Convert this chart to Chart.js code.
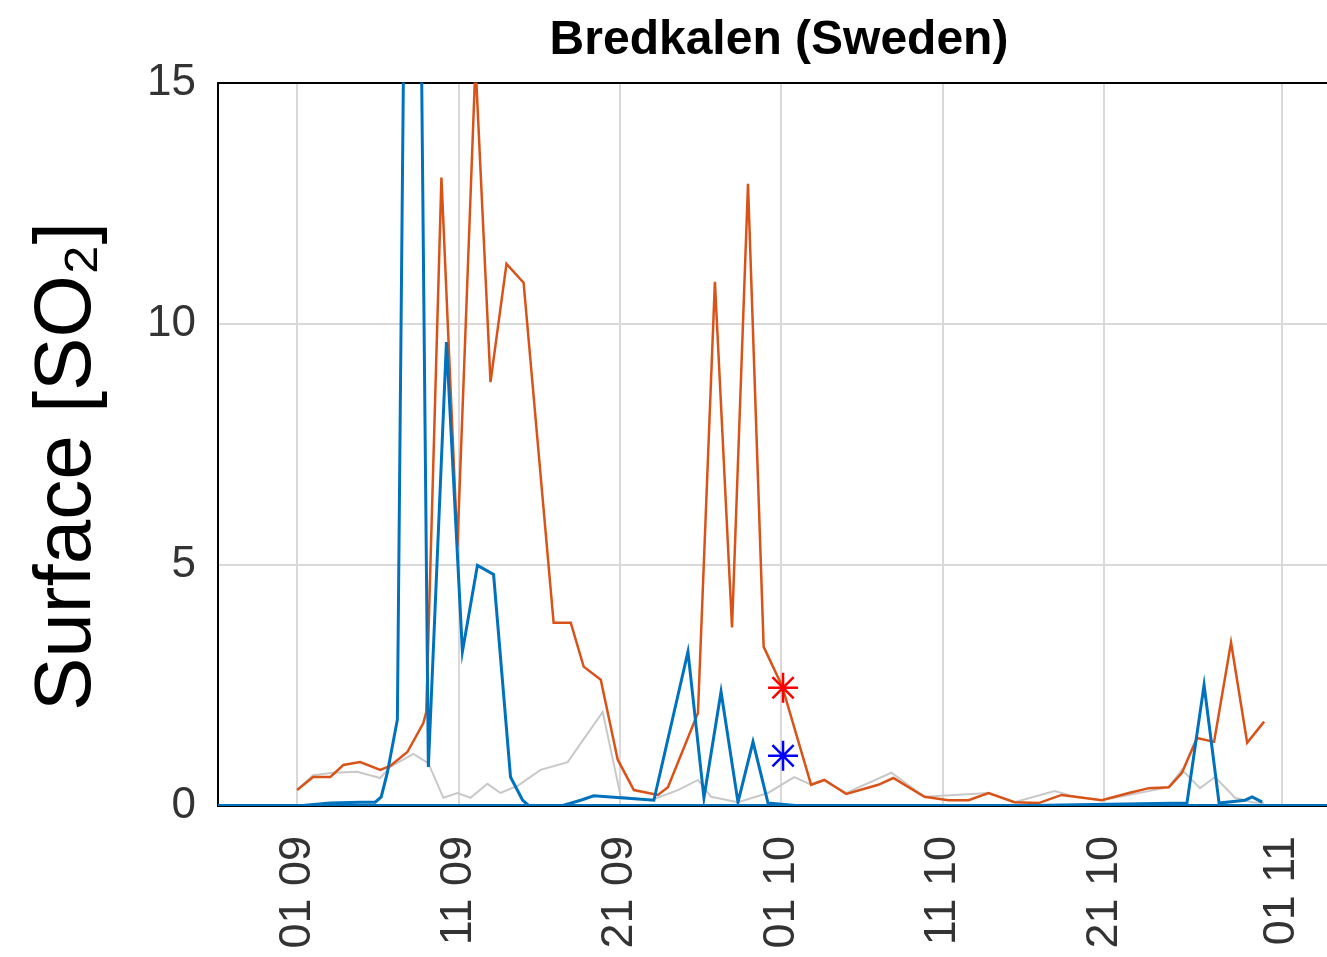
<!DOCTYPE html>
<html>
<head>
<meta charset="utf-8">
<title>Bredkalen (Sweden)</title>
<script src="https://cdn.jsdelivr.net/npm/chart.js"></script>
<style>
  html, body { margin: 0; padding: 0; background: #fff; overflow: hidden; }
  #wrap { width: 1340px; height: 957px; }
</style>
</head>
<body>
<div id="wrap"><canvas id="so2Chart" width="1340" height="957"></canvas></div>
<script>
// x values are days counted from 01 Sep
const tickDays = [0, 10, 20, 30, 40, 50, 61];
const tickLabels = ['01 09', '11 09', '21 09', '01 10', '11 10', '21 10', '01 11'];
const xMin = -4.9;
const xMax = 64.6;

const orangeDays = [0.00, 0.99, 2.05, 2.86, 3.91, 5.15, 5.77, 6.83, 7.82, 8.0, 8.94, 9.93, 11.05, 11.98, 12.97, 14.03,
    15.89, 16.95, 17.75, 18.81, 19.86, 20.86, 22.35, 22.97, 24.83, 25.88, 26.94, 27.93, 28.9, 30.04, 31.84, 32.65,
    34.02, 36.0, 36.93, 38.86, 40.35, 41.59, 42.83, 44.44, 45.93, 47.36, 49.84, 51.52, 52.76, 54.0, 54.81, 55.74,
    56.80, 57.85, 58.85, 59.90];
const orangeValues = [0.33, 0.60, 0.60, 0.85, 0.91, 0.75, 0.83, 1.12, 1.72, 1.95, 13.03, 5.38, 15.4, 8.79, 11.24, 10.85,
    3.80, 3.80, 2.89, 2.62, 0.96, 0.33, 0.23, 0.39, 1.93, 10.87, 3.70, 12.90, 3.30, 2.49, 0.44, 0.54,
    0.25, 0.44, 0.58, 0.19, 0.12, 0.12, 0.27, 0.08, 0.06, 0.23, 0.12, 0.27, 0.37, 0.39, 0.69, 1.41,
    1.33, 3.39, 1.31, 1.75];

const blueDays = [0, 2.05, 3.91, 4.84, 5.21, 5.59, 6.21, 7.14, 8.13, 9.25, 10.24, 11.17, 12.17, 13.22, 13.97, 14.65,
    15.52, 17.57, 18.37, 20.05, 22.10, 24.21, 25.20, 26.26, 27.31, 28.24, 29.17, 31.2, 37.4, 41.2, 43.6, 55.12,
    56.18, 57.11, 58.72, 59.16, 59.78];
const blueValues = [0, 0.06, 0.08, 0.08, 0.19, 0.69, 1.79, 35, 0.81, 9.62, 3.20, 4.99, 4.80, 0.60, 0.12, -0.08,
    -0.08, 0.12, 0.21, 0.17, 0.12, 3.20, 0.17, 2.37, 0.08, 1.33, 0.06, 0, -0.04, -0.04, 0, 0.06,
    2.51, 0.06, 0.12, 0.19, 0.08];

const grayDays = [0, 0.99, 2.23, 3.72, 5.15, 5.77, 7.2, 8.13, 9.06, 9.93, 10.74, 11.79, 12.6, 13.66, 15.08, 16.76,
    18.93, 20.05, 21.91, 23.59, 24.83, 25.64, 27.31, 29.17, 30.79, 31.84, 32.65, 34.02, 36.81, 38.86, 42.83, 44.44,
    46.93, 47.98, 49.84, 54.0, 54.81, 55.93, 56.86, 58.1, 59.16, 59.9];
const grayValues = [0.33, 0.64, 0.69, 0.71, 0.58, 0.81, 1.08, 0.89, 0.17, 0.27, 0.17, 0.46, 0.27, 0.42, 0.75, 0.91,
    1.95, 0.19, 0.12, 0.33, 0.54, 0.19, 0.08, 0.27, 0.60, 0.44, 0.54, 0.27, 0.69, 0.19, 0.27, 0.08,
    0.31, 0.21, 0.12, 0.39, 0.75, 0.37, 0.60, 0.17, 0.08, 0.06];

// the two asterisk markers on 01 10
const markerDays = [30.1];
const redMarker = [2.45];
const blueMarker = [1.04];

const ORANGE = '#D95319';
const BLUE = '#0072BD';
const GRAY = '#c8c8c8';
const FONT = "'Liberation Sans', Arial, Helvetica, sans-serif";

function toPoints(days, values) {
    return days.map((d, i) => ({ x: d, y: values[i] }));
}

function lineSet(data, color, width) {
    return {
        data: data,
        borderColor: color,
        backgroundColor: color,
        borderWidth: width,
        pointRadius: 0,
        tension: 0,
        fill: false
    };
}

function markerSet(data, color) {
    return {
        data: data,
        showLine: false,
        pointStyle: 'star',
        pointRadius: 15,
        pointBorderWidth: 2.5,
        pointBorderColor: color,
        pointBackgroundColor: color
    };
}

const ctx = document.getElementById('so2Chart').getContext('2d');

// first dataset is drawn on top
new Chart(ctx, {
    type: 'line',
    data: {
        datasets: [
            markerSet(toPoints(markerDays, redMarker), '#ff0000'),
            markerSet(toPoints(markerDays, blueMarker), '#0000ff'),
            lineSet(toPoints(blueDays, blueValues), BLUE, 3),
            lineSet([{ x: xMin, y: 0 }, { x: xMax, y: 0 }], BLUE, 4),
            lineSet(toPoints(orangeDays, orangeValues), ORANGE, 2.5),
            lineSet(toPoints(grayDays, grayValues), GRAY, 2)
        ]
    },
    options: {
        responsive: false,
        animation: false,
        devicePixelRatio: 1,
        layout: { padding: 0, autoPadding: false },
        plugins: {
            legend: { display: false },
            tooltip: { enabled: false },
            title: {
                display: true,
                text: 'Bredkalen (Sweden)',
                fullSize: false,
                color: '#000',
                font: { family: FONT, size: 48, weight: 'bold' },
                padding: { top: 12, bottom: 13 }
            }
        },
        scales: {
            x: {
                type: 'linear',
                position: 'bottom',
                min: xMin,
                max: xMax,
                afterBuildTicks: scale => {
                    scale.ticks = tickDays.map(v => ({ value: v }));
                },
                afterFit: scale => {
                    scale.height = 151;
                    scale.paddingLeft = 0;
                    scale.paddingRight = 0;
                },
                ticks: {
                    callback: (value, index) => tickLabels[index],
                    autoSkip: false,
                    minRotation: 90,
                    maxRotation: 90,
                    padding: 30,
                    color: '#333',
                    font: { family: FONT, size: 45 }
                },
                grid: { color: '#d9d9d9', lineWidth: 2, drawTicks: false },
                border: { color: '#000', width: 2 }
            },
            x2: {
                type: 'linear',
                position: 'top',
                min: xMin,
                max: xMax,
                afterFit: scale => {
                    scale.height = 0;
                    scale.paddingLeft = 0;
                    scale.paddingRight = 0;
                },
                ticks: { display: false },
                grid: { display: false, drawTicks: false },
                border: { display: true, color: '#000', width: 2 }
            },
            y: {
                min: 0,
                max: 15,
                afterFit: scale => { scale.width = 218; },
                ticks: {
                    stepSize: 5,
                    padding: 22,
                    color: '#333',
                    font: { family: FONT, size: 44 }
                },
                grid: { color: '#d9d9d9', lineWidth: 2, drawTicks: false },
                border: { color: '#000', width: 2 },
                title: {
                    display: true,
                    // trailing spaces nudge the centred label down a little, as in the original
                    text: 'Surface [SO₂]  ',
                    color: '#000',
                    font: { family: FONT, size: 80 },
                    padding: { top: 20, bottom: 9 }
                }
            }
        }
    }
});
</script>
</body>
</html>
